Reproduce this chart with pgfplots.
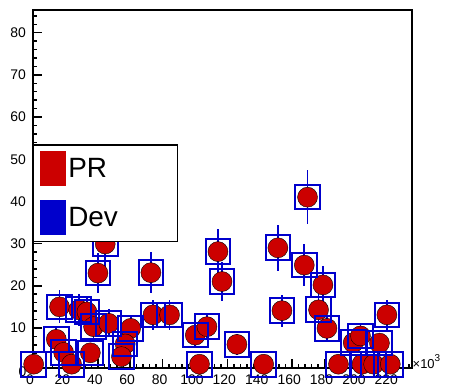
\documentclass[border=0pt]{standalone}
\usepackage{fontspec}
\setmainfont{Liberation Sans}
\usepackage{pgfplots}
\usepackage{pgfplotstable}
\pgfplotsset{compat=1.18}
\definecolor{rootred}{RGB}{204,0,0}
\definecolor{rootblue}{RGB}{0,0,204}

% x in units of 10^3, y = counts, e = error
\pgfplotstableread{
x     y     e
0.4   1.4   1.2
16.4  15.0  3.9
14.4  7.3   2.7
18.9  4.2   2.0
23.8  1.4   1.2
28.2  14.3  3.8
33.3  13.8  3.7
35.4  4.1   2.0
37.4  10.3  3.2
46.7  11.1  3.3
40.1  23.0  4.8
44.6  29.9  5.5
60.3  9.9   3.1
56.9  6.2   2.5
54.6  3.2   1.8
72.8  23.1  4.8
74.1  13.1  3.6
84.3  13.1  3.6
100.2 8.3   2.9
107.4 10.3  3.2
102.8 1.4   1.2
114.2 28.1  5.3
116.7 21.0  4.6
125.9 6.1   2.5
142.4 1.4   1.2
151.2 29.0  5.4
153.7 14.1  3.8
169.5 41.0  6.4
167.5 24.9  5.0
179.0 20.2  4.5
176.3 14.3  3.8
181.5 9.9   3.1
188.6 1.4   1.2
197.7 6.5   2.5
202.2 8.1   2.8
203.1 1.4   1.2
213.9 6.4   2.5
210.3 1.4   1.2
220.6 1.4   1.2
218.5 13.1  3.6
}\hits

\begin{document}
\begin{tikzpicture}
\begin{axis}[
    scale only axis,
    width=379bp, height=358.5bp,
    xmin=0, xmax=234, ymin=0.5, ymax=85.5,
    xtick={0,20,...,220}, ytick={10,20,...,80},
    minor xtick={4,8,...,232}, minor ytick={2,4,...,84},
    tick pos=left, tick align=inside,
    major tick length=9bp, minor tick length=4.5bp,
    tick style={black, line width=1.5bp},
    axis line style={line width=2bp},
    axis on top, clip=false,
    /pgf/number format/assume math mode=true,
    ticklabel style={font=\fontsize{14}{14}\selectfont, inner sep=0pt},
    xticklabel style={yshift=-7bp, xshift=-3bp},
    yticklabel style={xshift=-7bp},
    legend style={
        at={(0,0.6248)}, anchor=north west,
        draw=black, line width=1.5bp, fill=white,
        inner xsep=6.3bp, inner ysep=6.5bp,
        row sep=14bp, column sep=2.8bp,
        font=\fontsize{28}{28}\selectfont,
        nodes={inner sep=0pt},
    },
    legend cell align=left,
    legend image code/.code={\fill[#1] (0bp,-16.65bp) rectangle (24bp,16.65bp);},
  ]
  \addlegendimage{rootred}
  \addlegendentry{\makebox[102.6bp][l]{PR}}
  \addlegendimage{rootblue}
  \addlegendentry{\makebox[102.6bp][l]{Dev}}

  % Dev error bars
  \addplot[rootblue, only marks, mark=none, forget plot,
    error bars/.cd, y dir=both, y explicit, error mark=none,
    error bar style={line width=1.8bp}]
    table[x=x, y=y, y error=e] {\hits};
  % PR
  \addplot[only marks, mark=*, mark size=10bp, forget plot,
    mark options={fill=rootred, draw=none}]
    table[x=x, y=y] {\hits};
  % Dev markers
  \addplot[only marks, mark=square, mark size=12.3bp, forget plot,
    mark options={draw=rootblue, line width=2bp, fill=none}]
    table[x=x, y=y] {\hits};

  \node[anchor=east, inner sep=0pt, font=\fontsize{14}{14}\selectfont]
    at (rel axis cs:0,0) [xshift=-6.5bp, yshift=-3.7bp] {0};
  \node[anchor=base west, inner sep=0pt, font=\fontsize{13}{13}\selectfont]
    at (rel axis cs:1,0) [xshift=0.5bp, yshift=0bp]
    {×10\raisebox{6.5bp}{\fontsize{10}{10}\selectfont 3}};
\end{axis}
\pgfresetboundingbox
\path[use as bounding box] (-33bp,-22bp) rectangle (416bp,368bp);
\end{tikzpicture}
\end{document}
